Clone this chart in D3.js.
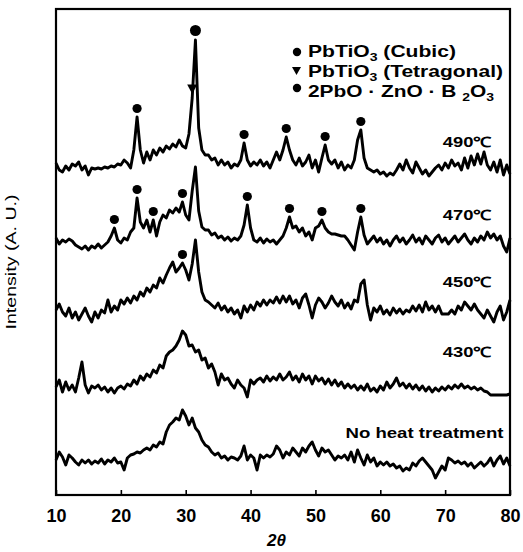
<!DOCTYPE html>
<html>
<head>
<meta charset="utf-8">
<script src="https://cdnjs.cloudflare.com/ajax/libs/d3/7.8.5/d3.min.js"></script>
<style>
  body { margin: 0; background: #fff; }
  text { font-family: "Liberation Sans", Arial, sans-serif; fill: #000; }
</style>
</head>
<body>
<div id="chart"></div>
<script>
// 2-theta grid, 10..80 deg every 0.5 deg
var twoTheta = d3.range(10, 80.25, 0.5);

// intensities (arbitrary units, before stacking)
var noHeat = [
  11, 15, 12.5, 8.5, 13.5, 12, 10, 8.5, 11, 9.5,
  11, 9, 10.5, 9.5, 11.5, 9, 11, 10, 12, 9.5,
  10, 6, 12, 13.5, 14, 15, 14.5, 16, 17, 16,
  18.5, 17.5, 20, 19, 25, 28.5, 30, 32, 31, 36,
  33, 28.5, 32, 27, 25, 21, 18.5, 17.5, 15, 13.5,
  14.5, 12, 13, 11, 12.5, 12, 11, 13, 18, 11,
  13.5, 12, 6, 13.5, 12, 13.5, 12.5, 14, 18, 16,
  12, 15, 13.5, 17, 15, 13, 17, 15, 18, 20,
  16, 13, 17, 15, 16, 13.5, 11, 13, 12, 13.5,
  11, 15, 10, 16, 12, 8.5, 13.5, 10, 12, 8,
  10, 8.5, 10, 8, 9, 7, 8, 5.5, 7, 6,
  9.5, 8, 10.5, 12, 10, 8, 6, 2, 5, 8,
  6, 12, 11, 9.5, 10.5, 9, 10, 8, 9.5, 7,
  8.5, 10, 8, 9.5, 12, 8, 11, 13, 9, 12,
  8
];
var t430 = [
  10.5, 14, 8, 13, 9, 11.5, 8, 15, 23, 11.5,
  7.5, 11, 10, 11.5, 9, 10.5, 8, 10, 7.5, 10,
  11, 9.5, 12, 11, 14, 12, 16, 14, 17, 15.5,
  19, 17.5, 21.5, 20, 26, 28, 29, 31, 34, 38.5,
  36.5, 31, 31.5, 28, 29, 24, 25, 20, 22, 18,
  11.5, 17, 14, 15, 12, 10, 14, 11.5, 10, 5.5,
  14, 12, 14, 15, 13, 16, 13.5, 15.5, 14, 17,
  14, 15.5, 18, 14, 16, 13, 17, 14, 16, 12,
  16, 13.5, 15, 12, 14.5, 11.5, 14, 11, 13, 10,
  12, 10, 11.5, 9, 11, 9, 12, 8.5, 10, 8,
  11, 9, 13, 10, 12, 15, 11, 12.5, 10, 12,
  9.5, 11.5, 9, 11, 8.5, 10.5, 8, 10, 8.5, 10.5,
  9, 11, 9.5, 11.5, 10, 12, 10, 11, 9.5, 10.5,
  9, 10, 8.5, 8, 6.5, 6.5, 6.5, 6.5, 6.5, 6.5,
  7
];
var t450 = [
  11, 14, 10, 8, 12, 7, 10, 6, 9, 12,
  8, 5, 10, 7, 11, 9.5, 16, 10, 13, 11,
  16, 14, 17, 14.5, 18, 16, 20, 18, 22, 20,
  23.5, 22, 27, 24.5, 28.5, 32, 35, 30, 32, 34.5,
  31, 26, 34, 46, 30, 20, 16, 15, 13.5, 12,
  14.5, 11, 13, 10, 12, 9, 11, 7, 13, 10,
  13.5, 11, 15, 13, 16, 13.5, 16, 14.5, 17.5, 14.5,
  18, 15, 18, 14, 16, 12, 17, 19, 13.5, 7,
  13.5, 17, 15, 12, 14.5, 18, 15, 13, 16, 12,
  14.5, 11.5, 16, 15, 24, 26, 13.5, 6, 12, 10,
  13, 9, 11, 8.5, 12, 9.5, 11.5, 9, 11, 10,
  13, 10.5, 13.5, 10, 15, 11, 13, 10, 13, 9,
  9, 9, 11, 9, 13, 11, 15, 13, 11, 14,
  11, 9, 7, 11, 8, 5, 10, 13, 6, 10,
  16
];
var t470 = [
  12.5, 9.5, 11.5, 10.5, 12, 11, 9, 8, 7, 8.5,
  6.5, 8.5, 7.5, 9.5, 7.5, 9, 10.5, 13.5, 17.5, 11.5,
  10, 12.5, 11.5, 15.5, 17.5, 32.5, 20.5, 17.5, 21.5, 15.5,
  21.5, 13.5, 20.5, 24, 22.5, 26.5, 25, 27.5, 25.5, 30.5,
  24, 21.5, 36, 48, 26, 18, 16.5, 16.5, 14, 15,
  12.5, 13.5, 11.5, 13, 11, 12.5, 11.5, 13.5, 19, 29,
  17.5, 11.5, 10.5, 12.5, 10, 12, 10.5, 11.5, 9.5, 11.5,
  13.5, 17.5, 23, 17.5, 18.5, 15.5, 17.5, 13.5, 15.5, 11.5,
  17.5, 18.5, 21.5, 17.5, 15.5, 14.5, 14.5, 14, 13.5, 13.5,
  11.5, 9, 6.5, 15.5, 23, 14, 9.5, 11.5, 13.5, 10.5,
  12.5, 9.5, 11.5, 8.5, 11.5, 13.5, 10.5, 12.5, 9.5, 11.5,
  14, 10.5, 12.5, 9.5, 13.5, 11.5, 9.5, 12.5, 14, 10.5,
  12.5, 9.5, 11.5, 13.5, 10.5, 12.5, 14.5, 11.5, 9.5, 12.5,
  10.5, 13.5, 11.5, 15.5, 12.5, 14.5, 11.5, 13.5, 8.5, 5.5,
  12.5
];
var t490 = [
  12.5, 9, 8, 11, 9, 12, 11, 13, 9, 11,
  6.5, 10, 9.5, 10, 9.5, 10.5, 10, 11, 10.5, 12,
  11.5, 14, 12.5, 10, 19, 35.5, 19, 12.5, 18, 14,
  19, 16.5, 20, 18, 21, 19.5, 22, 20.5, 24, 21,
  20, 27, 45, 74, 30, 19, 16.5, 16.5, 14, 15,
  11.5, 14, 11.5, 13, 10, 12, 11, 14, 22.5, 14,
  11, 13, 11.5, 14, 11, 13, 10, 14, 18, 14,
  19, 25.5, 19, 14, 11.5, 15, 11, 13, 16.5, 10,
  14, 8, 15, 21.5, 14, 12, 14, 10, 13, 9,
  11.5, 10, 14, 24, 29, 15, 10, 9, 8, 9,
  7, 8, 6, 7.5, 6.5, 9, 12, 9, 14, 10,
  7.5, 13, 10, 7, 9, 6, 8, 10, 11.5, 9,
  12.5, 10, 14, 11, 12.5, 9, 15, 10, 16, 11.5,
  17, 12, 18, 11.5, 9, 13, 8, 14, 6.5, 11.5,
  7
];

var seriesNames = ["No heat treatment", "430℃", "450℃", "470℃", "490℃"];
var seriesValues = [noHeat, t430, t450, t470, t490];
var seriesOffsets = [6.5, 43.5, 81.5, 116, 153.5];

var xTicks = [10, 20, 30, 40, 50, 60, 70, 80];

// phase markers: [series index, 2theta, kind]  c = 2PbO.ZnO.B2O3 / cubic dot, t = tetragonal
var markers = [
  [4, 22.5, "c"], [4, 31, "t"], [4, 31.5, "C"], [4, 39, "c"], [4, 45.5, "c"], [4, 51.5, "c"], [4, 57, "c"],
  [3, 19, "c"], [3, 22.5, "c"], [3, 25, "c"], [3, 29.5, "c"], [3, 39.5, "c"], [3, 46, "c"], [3, 51, "c"], [3, 57, "c"],
  [2, 29.5, "c"]
];

var svgWidth = 523, svgHeight = 552;
var margin = { top: 9, right: 13, bottom: 57, left: 56 };
var chartWidth = svgWidth - margin.left - margin.right;
var chartHeight = svgHeight - margin.top - margin.bottom;

var svg = d3.select("#chart").append("svg")
  .attr("width", svgWidth)
  .attr("height", svgHeight);

var chartGroup = svg.append("g")
  .attr("transform", `translate(${margin.left}, ${margin.top})`);

var xScale = d3.scaleLinear().domain([10, 80]).range([0, chartWidth]);
var yScale = d3.scaleLinear().domain([0, 243]).range([chartHeight, 0]);

// bottom axis, ticks pointing inward
var bottomAxis = d3.axisBottom(xScale)
  .tickValues(xTicks)
  .tickSizeInner(-5)
  .tickSizeOuter(0)
  .tickPadding(14);

var axisG = chartGroup.append("g")
  .attr("transform", `translate(0, ${chartHeight})`)
  .call(bottomAxis);
axisG.select(".domain").remove();
axisG.selectAll(".tick line").attr("stroke", "#000").attr("stroke-width", 1.6);
axisG.selectAll(".tick text")
  .style("font-family", "'Liberation Sans', Arial, sans-serif")
  .style("font-size", "18px")
  .style("font-weight", "bold")
  .attr("fill", "#000");

// frame
chartGroup.append("rect")
  .attr("x", 0).attr("y", 0)
  .attr("width", chartWidth).attr("height", chartHeight)
  .attr("fill", "none")
  .attr("stroke", "#000")
  .attr("stroke-width", 2.2);

// traces
var line = d3.line()
  .x(function(d, i) { return xScale(twoTheta[i]); })
  .y(function(d) { return yScale(d); });

seriesValues.forEach(function(vals, s) {
  var stacked = vals.map(function(v) { return v + seriesOffsets[s]; });
  chartGroup.append("path")
    .datum(stacked)
    .attr("d", line)
    .attr("fill", "none")
    .attr("stroke", "#000")
    .attr("stroke-width", 2.9)
    .attr("stroke-linejoin", "round");
});

// series labels
var labelRise = [24, 31, 25, 23, 21];
var labelRight = [79, 77.2, 77.2, 77.2, 77.2];
seriesNames.forEach(function(name, s) {
  var isLong = s === 0;
  chartGroup.append("text")
    .attr("x", xScale(labelRight[s]))
    .attr("y", yScale(seriesOffsets[s] + 10) - labelRise[s])
    .attr("text-anchor", "end")
    .style("font-size", isLong ? "15px" : "14px")
    .style("font-weight", "bold")
    .attr("textLength", isLong ? 158 : 49)
    .attr("lengthAdjust", "spacingAndGlyphs")
    .text(name);
});

// markers over the peaks
var gap = 8.5;
markers.forEach(function(m) {
  var s = m[0], idx = Math.round((m[1] - 10) / 0.5);
  var px = xScale(m[1]);
  var py = yScale(seriesValues[s][idx] + seriesOffsets[s]);
  if (m[2] === "t") {
    var cy = py - 9;
    chartGroup.append("path")
      .attr("d", `M${px - 5},${cy - 4.5} L${px + 5},${cy - 4.5} L${px},${cy + 5} Z`)
      .attr("fill", "#000");
  } else {
    chartGroup.append("circle")
      .attr("cx", px)
      .attr("cy", py - (m[2] === "C" ? 9.5 : gap))
      .attr("r", m[2] === "C" ? 5.5 : 4.6)
      .attr("fill", "#000");
  }
});

// legend
var legend = svg.append("g");
var legendRows = [
  { sym: "c", parts: [["PbTiO", 0], ["3", 1], [" (Cubic)", 0]], len: 148 },
  { sym: "t", parts: [["PbTiO", 0], ["3", 1], [" (Tetragonal)", 0]], len: 195 },
  { sym: "c", parts: [["2PbO · ZnO · B  ", 0], ["2", 1], ["O", 0], ["3", 1]], len: 186 }
];
legendRows.forEach(function(row, r) {
  var base = 57 + r * 20;
  if (row.sym === "c") {
    legend.append("circle").attr("cx", 297).attr("cy", base - (r === 2 ? 9 : 5)).attr("r", 4.2).attr("fill", "#000");
  } else {
    legend.append("path")
      .attr("d", `M292,${base - 10} L301,${base - 10} L296.5,${base - 2} Z`)
      .attr("fill", "#000");
  }
  var t = legend.append("text")
    .attr("x", 308).attr("y", base)
    .style("font-size", "16.5px")
    .style("font-weight", "bold")
    .attr("textLength", row.len)
    .attr("lengthAdjust", "spacingAndGlyphs");
  row.parts.forEach(function(p, i) {
    var prevSub = i > 0 && row.parts[i - 1][1];
    var ts = t.append("tspan").text(p[0]);
    if (p[1]) ts.style("font-size", "11px");
    if (p[1] && !prevSub) ts.attr("dy", 4);
    else if (!p[1] && prevSub) ts.attr("dy", -4);
  });
});

// axis titles
svg.append("text")
  .attr("transform", "translate(16, 262) rotate(-90)")
  .attr("text-anchor", "middle")
  .style("font-size", "14px")
  .attr("textLength", 135)
  .attr("lengthAdjust", "spacingAndGlyphs")
  .text("Intensity (A. U.)");

svg.append("text")
  .attr("x", margin.left + xScale(44))
  .attr("y", 546)
  .attr("text-anchor", "middle")
  .style("font-size", "17px")
  .style("font-weight", "bold")
  .style("font-style", "italic")
  .text("2θ");
</script>
</body>
</html>
